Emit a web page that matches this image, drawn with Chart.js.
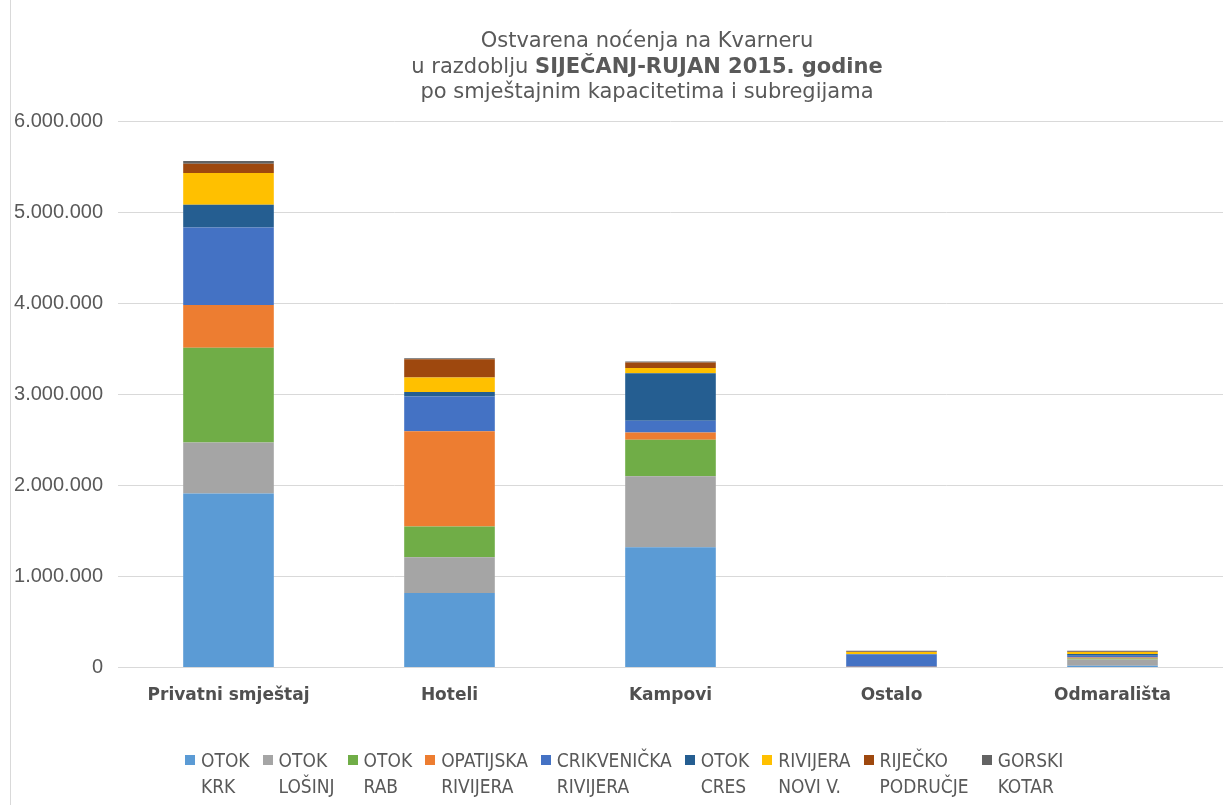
<!DOCTYPE html>
<html>
<head>
<meta charset="utf-8">
<script src="https://cdn.jsdelivr.net/npm/chart.js@4"></script>
<style>
  html, body { margin: 0; padding: 0; background: #fff; }
  #wrap { position: relative; width: 1223px; height: 805px; overflow: hidden; }
  #frame { position: absolute; left: 10px; top: 0; width: 1px; height: 805px; background: #d9d9d9; }
  #legend { position: absolute; left: 185px; top: 747px; display: flex; font-family: 'Liberation Sans Narrow', 'DejaVu Sans Condensed', 'Liberation Sans', sans-serif; font-size: 19px; color: #595959; }
  #legend .item { display: flex; align-items: flex-start; margin-right: 13px; }
  #legend .box { width: 10px; height: 10px; margin-top: 8px; margin-right: 6px; flex: none; }
  #legend .txt { line-height: 26px; white-space: nowrap; }
</style>
</head>
<body>
<div id="wrap">
  <canvas id="c" width="1223" height="805"></canvas>
  <div id="frame"></div>
  <div id="legend"></div>
</div>
<script>
const categories = ['Privatni smještaj', 'Hoteli', 'Kampovi', 'Ostalo', 'Odmarališta'];
const seriesNames = [
    ['OTOK', 'KRK'], ['OTOK', 'LOŠINJ'], ['OTOK', 'RAB'], ['OPATIJSKA', 'RIVIJERA'],
    ['CRIKVENIČKA', 'RIVIJERA'], ['OTOK', 'CRES'], ['RIVIJERA', 'NOVI V.'], ['RIJEČKO', 'PODRUČJE'], ['GORSKI', 'KOTAR']
];
const seriesColors = ['#5b9bd5', '#a5a5a5', '#70ad47', '#ed7d31', '#4472c4', '#255e91', '#ffc000', '#9e480e', '#636363'];

const otokKrk = [1910000, 820000, 1320000, 0, 20000];
const otokLosinj = [560000, 390000, 780000, 0, 70000];
const otokRab = [1040000, 340000, 400000, 0, 10000];
const opatijskaRivijera = [470000, 1045000, 80000, 10000, 10000];
const crikvenickaRivijera = [850000, 380000, 130000, 135000, 20000];
const otokCres = [250000, 50000, 520000, 5000, 20000];
const rivijeraNoviV = [350000, 160000, 60000, 20000, 20000];
const rijeckoPodrucje = [100000, 200000, 60000, 5000, 5000];
const gorskiKotar = [30000, 10000, 10000, 10000, 10000];
const seriesValues = [otokKrk, otokLosinj, otokRab, opatijskaRivijera, crikvenickaRivijera, otokCres, rivijeraNoviV, rijeckoPodrucje, gorskiKotar];

const yTicks = [0, 1000000, 2000000, 3000000, 4000000, 5000000, 6000000];

function fmt(v) {
    return v.toString().replace(/\B(?=(\d{3})+(?!\d))/g, '.');
}

// naslov s podebljanim dijelom u srednjem retku
const titlePlugin = {
    id: 'mixedTitle',
    afterDraw(chart) {
        const ctx = chart.ctx;
        const cx = 647;
        const fam = "'DejaVu Sans', Verdana, sans-serif";
        ctx.save();
        ctx.fillStyle = '#595959';
        ctx.textBaseline = 'middle';
        ctx.textAlign = 'left';
        const normal = '21px ' + fam;
        const bold = 'bold 21px ' + fam;
        function line(parts, y) {
            let w = 0;
            parts.forEach(p => { ctx.font = p[1]; w += ctx.measureText(p[0]).width; });
            let x = cx - w / 2;
            parts.forEach(p => { ctx.font = p[1]; ctx.fillText(p[0], x, y); x += ctx.measureText(p[0]).width; });
        }
        line([['Ostvarena noćenja na Kvarneru', normal]], 42);
        line([['u razdoblju ', normal], ['SIJEČANJ-RUJAN 2015. godine', bold]], 68);
        line([['po smještajnim kapacitetima i subregijama', normal]], 93);
        ctx.restore();
    }
};

const datasets = seriesNames.map((name, i) => ({
    label: name.join(' '),
    data: seriesValues[i],
    backgroundColor: seriesColors[i],
    borderWidth: 0,
    barPercentage: 0.82,
    categoryPercentage: 0.5
}));

new Chart(document.getElementById('c'), {
    type: 'bar',
    data: {labels: categories, datasets: datasets},
    options: {
        responsive: false,
        animation: false,
        layout: {padding: {top: 121, right: 0, bottom: 89, left: 3}},
        plugins: {legend: {display: false}, title: {display: false}, tooltip: {enabled: false}},
        scales: {
            x: {
                stacked: true,
                grid: {display: false},
                border: {color: '#d9d9d9', width: 1},
                ticks: {color: '#505050', padding: 10, font: {family: "'DejaVu Sans', Verdana, sans-serif", size: 17, weight: 'bold'}}
            },
            y: {
                stacked: true,
                min: 0,
                max: 6000000,
                afterBuildTicks(axis) { axis.ticks = yTicks.map(v => ({value: v})); },
                afterFit(axis) { axis.width = 115; },
                grid: {color: '#d9d9d9', drawTicks: false},
                border: {display: false},
                ticks: {color: '#595959', padding: 15, font: {family: "'Liberation Sans', Arial, sans-serif", size: 20}, callback: v => fmt(v)}
            }
        }
    },
    plugins: [titlePlugin]
});

const legendEl = document.getElementById('legend');
seriesNames.forEach((name, i) => {
    const item = document.createElement('div');
    item.className = 'item';
    item.innerHTML = `<span class="box" style="background:${seriesColors[i]}"></span><span class="txt">${name[0]}<br>${name[1]}</span>`;
    legendEl.appendChild(item);
});
</script>
</body>
</html>
